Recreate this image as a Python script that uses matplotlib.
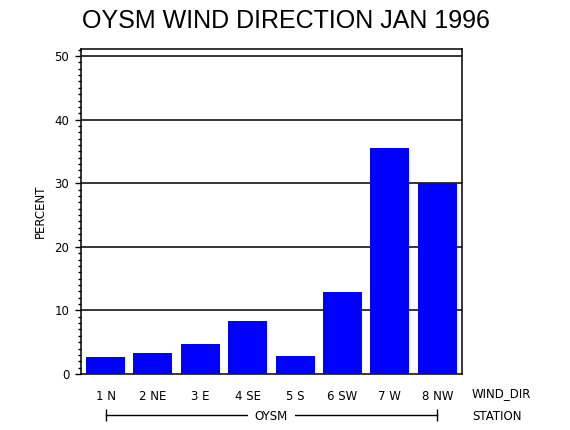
import matplotlib
matplotlib.use("Agg")
import matplotlib.pyplot as plt
from matplotlib.ticker import MultipleLocator
import matplotlib.transforms as mtransforms

title = "OYSM WIND DIRECTION JAN 1996"
categories = ["1 N", "2 NE", "3 E", "4 SE", "5 S", "6 SW", "7 W", "8 NW"]
percent = [2.7, 3.3, 4.7, 8.3, 2.8, 12.9, 35.5, 30.0]
station = "OYSM"
y_ticks = [0, 10, 20, 30, 40, 50]

fig = plt.figure(figsize=(5.7, 4.3), dpi=100)
ax = fig.add_axes([81/570, 1-374/430, (461.7-81)/570, (374-49.3)/430])

x = list(range(1, len(categories) + 1))
ax.bar(x, percent, width=0.82, color="#0000FF", zorder=3)

ax.set_xlim(0.483, 8.515)
ax.set_ylim(0, 51.05)
ax.set_yticks(y_ticks)
ax.set_yticklabels([str(v) for v in y_ticks], fontsize=8.5, family="DejaVu Sans")
ax.yaxis.set_minor_locator(MultipleLocator(1))
ax.tick_params(axis="y", which="major", direction="out", length=4.5, width=1, pad=4, right=False)
ax.tick_params(axis="y", which="minor", direction="out", length=2.2, width=1, right=False)
for v in y_ticks[1:]:
    ax.axhline(v, color="black", lw=1.1, zorder=2)

ax.set_xticks(x)
ax.set_xticklabels(categories, fontsize=8.5, family="DejaVu Sans")
ax.tick_params(axis="x", which="both", length=0, pad=11.5)

for s in ax.spines.values():
    s.set_linewidth(1.1)
    s.set_color("black")

ax.set_ylabel("PERCENT", fontsize=8.5, family="DejaVu Sans")
ax.yaxis.set_label_coords(-0.09, 0.5)

fig.text(286/570, 1-21/430, title, fontsize=18, family="Liberation Sans",
         ha="center", va="center")

fig.text(472/570, 1-394/430, "WIND_DIR", fontsize=8.5, family="DejaVu Sans",
         ha="left", va="center")
fig.text(472/570, 1-416.5/430, "STATION", fontsize=8.5, family="DejaVu Sans",
         ha="left", va="center")

trans = mtransforms.blended_transform_factory(ax.transData, fig.transFigure)
yb = 1-415/430
ax.plot([x[0], x[-1]], [yb, yb], color="black", lw=1, transform=trans,
        clip_on=False, marker="|", markersize=8, markeredgewidth=1)
ax.text((x[0]+x[-1])/2, 1-416.5/430, station, transform=trans, fontsize=8.5,
        family="DejaVu Sans", ha="center", va="center",
        bbox=dict(facecolor="white", edgecolor="none", pad=5))

fig.savefig("out.png", dpi=100)
